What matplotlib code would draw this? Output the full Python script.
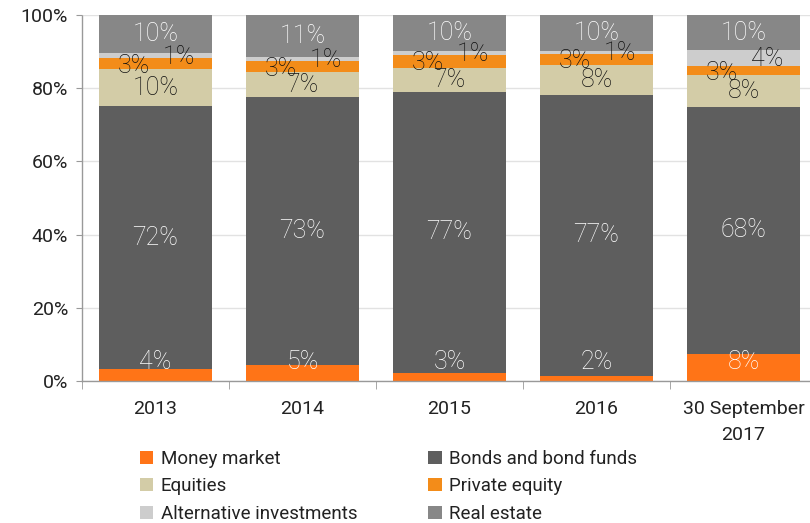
import matplotlib
matplotlib.use("Agg")
import matplotlib.pyplot as plt
import numpy as np

categories = ["2013", "2014", "2015", "2016", "30 September\n2017"]
money_market = [3.3, 4.4, 2.2, 1.4, 7.4]
bonds = [71.8, 73.2, 76.8, 76.8, 67.5]
equities = [10.1, 6.8, 6.6, 8.2, 8.7]
private_equity = [3.1, 3.0, 3.6, 3.0, 2.5]
alternative = [1.3, 1.1, 0.9, 0.8, 4.3]
real_estate = [10.4, 11.5, 9.9, 9.8, 9.6]

lbl_money = ["4%", "5%", "3%", "2%", "8%"]
lbl_bonds = ["72%", "73%", "77%", "77%", "68%"]
lbl_equities = ["10%", "7%", "7%", "8%", "8%"]
lbl_private = ["3%", "3%", "3%", "3%", "3%"]
lbl_alt = ["1%", "1%", "1%", "1%", "4%"]
lbl_real = ["10%", "11%", "10%", "10%", "10%"]

series = [
    ("Money market", money_market, "#FF7417", lbl_money, "white"),
    ("Bonds and bond funds", bonds, "#5E5E5E", lbl_bonds, "white"),
    ("Equities", equities, "#D3CCA7", lbl_equities, "#111111"),
    ("Private equity", private_equity, "#F38C19", lbl_private, "#111111"),
    ("Alternative investments", alternative, "#CDCDCD", lbl_alt, "#111111"),
    ("Real estate", real_estate, "#878787", lbl_real, "white"),
]

plt.rcParams['font.family'] = ['Roboto', 'DejaVu Sans']

fig = plt.figure(figsize=(8.1, 5.23), dpi=100)
ax = fig.add_axes([82/810, (523-381)/523, 735/810, 366/523])

x = np.arange(len(categories))
bottom = np.zeros(len(categories))
handles = {}
for name, vals, col, labels, tcol in series:
    vals = np.array(vals)
    h = ax.bar(x, vals, 0.77, bottom=bottom, color=col, label=name, zorder=2)
    handles[name] = h
    for i, (v, b, t) in enumerate(zip(vals, bottom, labels)):
        cy = b + v / 2
        dx = 0
        if name == "Money market":
            cy = 5.2
        elif name == "Private equity":
            dx = -0.15
            cy = b + v / 2 - 0.6
        elif name == "Alternative investments":
            dx = 0.16
            cy = b + v / 2 - 0.3
        ax.text(i + dx, cy, t, ha='center', va='center', color=tcol,
                fontsize=18, fontweight='light', zorder=5)
    bottom = bottom + vals

ax.set_xlim(-0.5, 4.5)
ax.set_ylim(0, 100)
ax.set_yticks([0, 20, 40, 60, 80, 100])
ax.set_yticklabels(["0%", "20%", "40%", "60%", "80%", "100%"])
ax.set_xticks(x)
ax.set_xticklabels(categories, linespacing=1.55)
ax.set_xticks(np.arange(-0.5, 5.0, 1.0), minor=True)
ax.tick_params(axis='x', which='major', length=0, pad=14, labelsize=14, labelcolor='#222222')
ax.tick_params(axis='x', which='minor', length=6, color='#999999')
ax.tick_params(axis='y', length=4, color='#999999', labelsize=14, labelcolor='#222222', pad=6)
ax.yaxis.grid(True, color='#E2E2E2', linewidth=1, zorder=0)
ax.set_axisbelow(True)
for s in ['top', 'right']:
    ax.spines[s].set_visible(False)
for s in ['left', 'bottom']:
    ax.spines[s].set_color('#999999')
    ax.spines[s].set_linestyle((0, (2, 1)))
    ax.spines[s].set_linewidth(1)

order = ["Money market", "Equities", "Alternative investments",
         "Bonds and bond funds", "Private equity", "Real estate"]
fig.legend([handles[n] for n in order], order, loc='upper left',
           bbox_to_anchor=(140/810, 1 - 450/523), ncol=2, frameon=False,
           fontsize=13.5, handlelength=0.7, handleheight=0.7, handletextpad=0.4,
           labelspacing=0.5, columnspacing=3.8, borderpad=0, borderaxespad=0,
           labelcolor='#222222')

fig.savefig("out.png", dpi=100)
